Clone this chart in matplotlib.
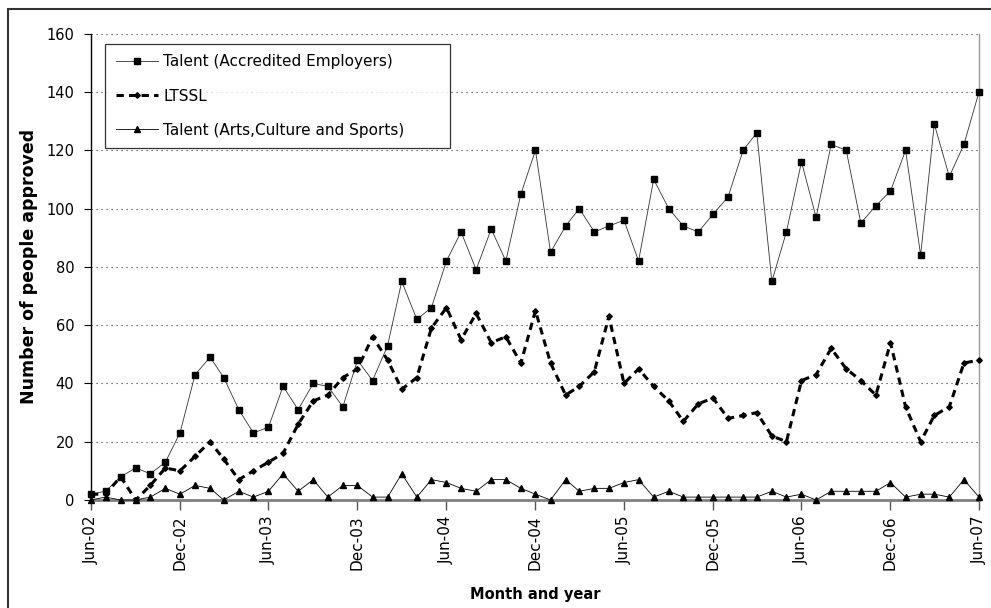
import matplotlib
matplotlib.use("Agg")
from matplotlib import pyplot as plt
from matplotlib.patches import Rectangle
import matplotlib.dates as mdates
import pandas as pd

# monthly approvals, Jun 2002 .. Jun 2007
months = pd.date_range("2002-06-01", periods=61, freq="MS")

accredited = [2, 3, 8, 11, 9, 13, 23, 43, 49, 42, 31, 23, 25, 39, 31, 40, 39, 32, 48, 41, 53, 75,
              62, 66, 82, 92, 79, 93, 82, 105, 120, 85, 94, 100, 92, 94, 96, 82, 110, 100, 94, 92,
              98, 104, 120, 126, 75, 92, 116, 97, 122, 120, 95, 101, 106, 120, 84, 129, 111, 122, 140]

ltssl = [2, 2, 8, 0, 5, 11, 10, 15, 20, 14, 7, 10, 13, 16, 26, 34, 36, 42, 45, 56, 48, 38,
         42, 59, 66, 55, 64, 54, 56, 47, 65, 47, 36, 39, 44, 63, 40, 45, 39, 34, 27, 33,
         35, 28, 29, 30, 22, 20, 41, 43, 52, 45, 41, 36, 54, 32, 20, 29, 32, 47, 48]

arts = [0, 1, 0, 0, 1, 4, 2, 5, 4, 0, 3, 1, 3, 9, 3, 7, 1, 5, 5, 1, 1, 9,
        1, 7, 6, 4, 3, 7, 7, 4, 2, 0, 7, 3, 4, 4, 6, 7, 1, 3, 1, 1,
        1, 1, 1, 1, 3, 1, 2, 0, 3, 3, 3, 3, 6, 1, 2, 2, 1, 7, 1]

labels = ["Talent (Accredited Employers)", "LTSSL", "Talent (Arts,Culture and Sports)"]

fig = plt.figure(figsize=(9.91, 6.08), dpi=100)
ax = fig.add_axes([0.0918, 0.1776, 0.8961, 0.767])

ax.plot(months, accredited, color="#333333", lw=0.6, marker="s", ms=4.5,
        mfc="k", mec="k", label=labels[0], clip_on=False, zorder=3)
ax.plot(months, ltssl, color="k", lw=2.2, dashes=(2.4, 1.7), marker="D", ms=2.8,
        mfc="k", mec="k", label=labels[1], clip_on=False, zorder=3)
ax.plot(months, arts, color="k", lw=0.6, marker="^", ms=4.5,
        mfc="k", mec="k", label=labels[2], clip_on=False, zorder=3)

ax.set_ylim(0, 160)
ax.set_yticks(range(0, 161, 20))
ax.set_xlim(months[0], months[-1])
ax.xaxis.set_major_locator(mdates.MonthLocator(bymonth=[6, 12]))
ax.xaxis.set_major_formatter(mdates.DateFormatter("%b-%y"))

ax.grid(axis="y", color="#333333", lw=0.8, linestyle=(0, (1, 3.5)))
ax.set_axisbelow(True)

for lab in ax.get_xticklabels():
    lab.set_rotation(90)
ax.tick_params(axis="x", labelsize=11, length=7, width=1, color="#555555", pad=4)
ax.tick_params(axis="y", labelsize=10.5, length=5, width=0.8, pad=7)

ax.spines["left"].set_color("k")
ax.spines["left"].set_linewidth(1.0)
ax.spines["bottom"].set_color("#808080")
ax.spines["bottom"].set_linewidth(2.0)
ax.spines["right"].set_color("#999999")
ax.spines["right"].set_linewidth(1.0)
ax.spines["top"].set_visible(False)

ax.set_xlabel("Month and year", fontsize=10.5, fontweight="bold", labelpad=12)
ax.set_ylabel("Number of people approved", fontsize=12.5, fontweight="bold", labelpad=6)

leg = ax.legend(loc="upper left", bbox_to_anchor=(0.0158, 0.762, 0.388, 0.2165), mode="expand",
                fontsize=11, frameon=True, fancybox=False, edgecolor="k", handlelength=2.8,
                handletextpad=0.3, labelspacing=1.25, borderpad=0.7, borderaxespad=0)
leg.get_frame().set_linewidth(0.9)

# outer chart border
fig.patches.append(Rectangle((8 / 991, -0.1), 2, (599 / 608) + 0.1, transform=fig.transFigure,
                             fill=False, edgecolor="#333333", lw=1.5))

fig.savefig("out.png", dpi=100)
